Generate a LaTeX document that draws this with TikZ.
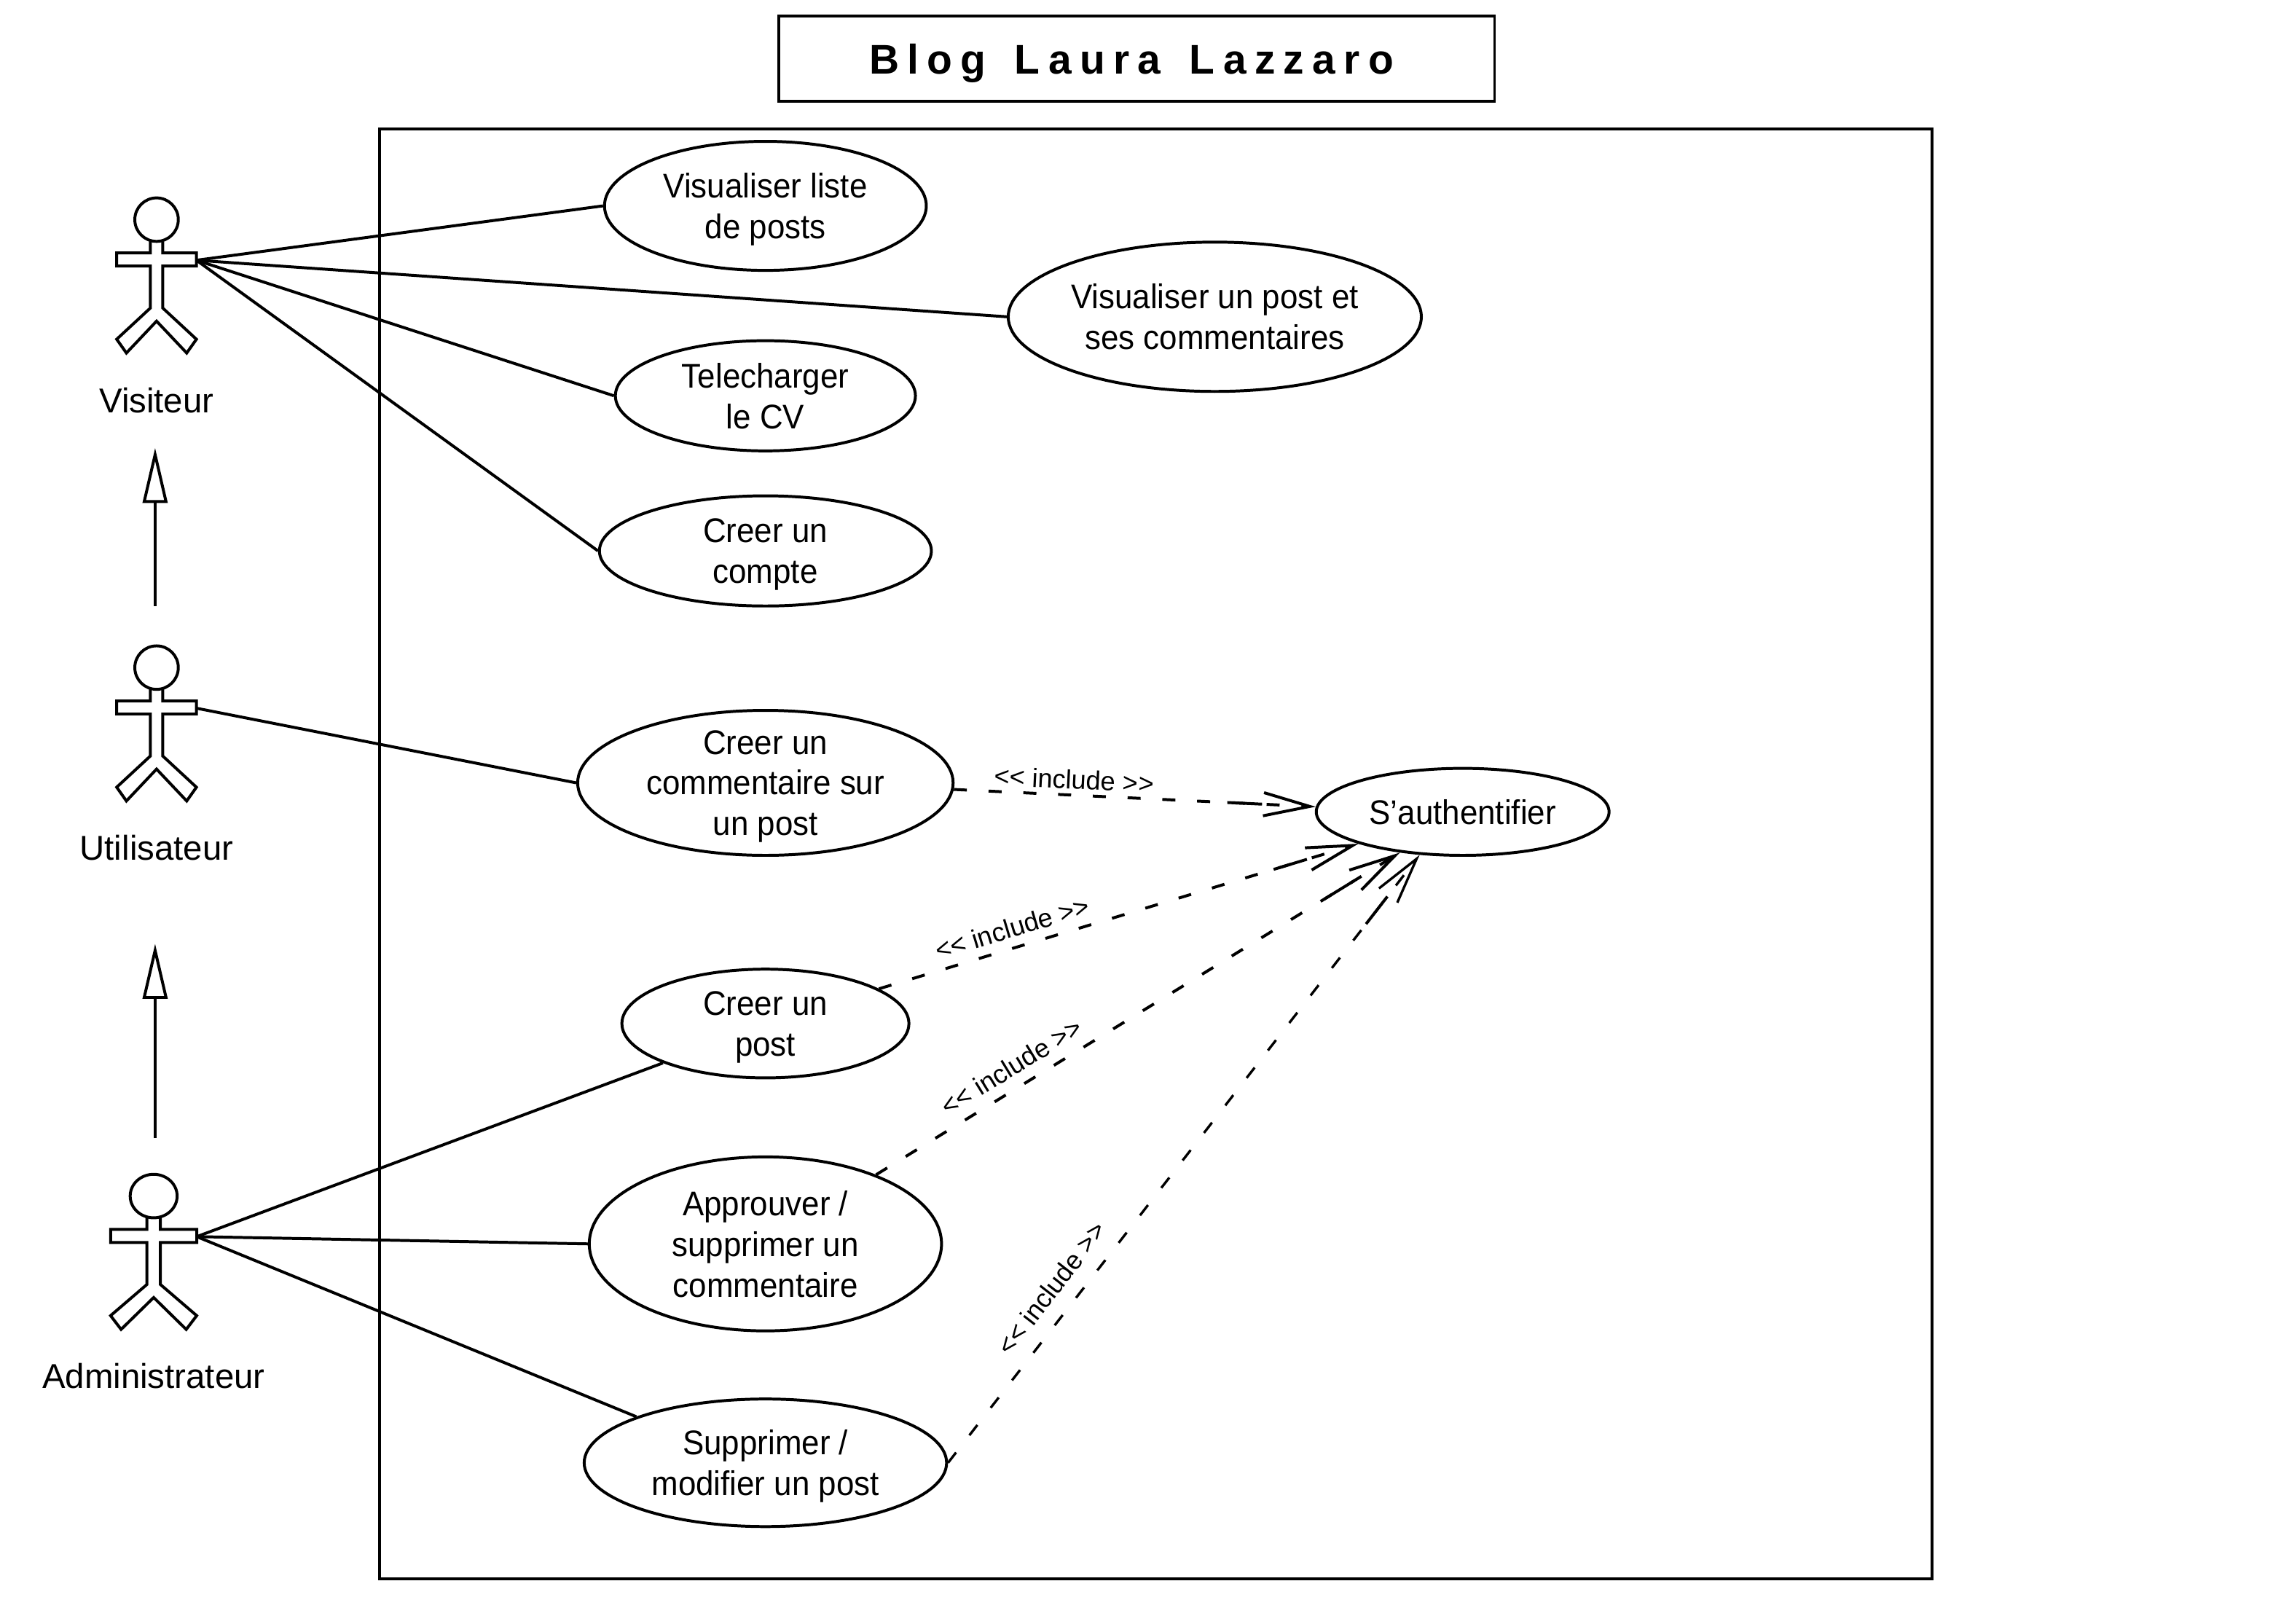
\documentclass[tikz,border=0pt]{standalone}
\usepackage{fontspec}
\setmainfont{Liberation Sans}
\newfontfamily\titlefont[LetterSpace=20,WordSpace=1.45]{Liberation Sans}
\newfontfamily\casefont[FakeStretch=0.935]{Liberation Sans}
\usetikzlibrary{arrows.meta,shapes.geometric}

\tikzset{
  actor/.pic={
    \draw (0,0) circle [radius=15];
    \draw (-4.3,15) -- (-4.3,23) -- (-27.5,23) -- (-27.5,32) -- (-4.3,32) -- (-4.3,61)
      -- (-27.5,82.5) -- (-20.8,92) -- (0,70) -- (20.8,92) -- (27.5,82.5) -- (4.3,61)
      -- (4.3,32) -- (27.5,32) -- (27.5,23) -- (4.3,23) -- (4.3,15);
    \coordinate (-hand) at (27.5,28);
  },
  usecase/.style={ellipse,draw,inner sep=-10pt,align=center,text depth=0pt,font=\casefont\fontsize{11.8}{14}\selectfont},
  assoc/.style={},
  include/.style={dash pattern=on 4.5pt off 7.5pt,shorten >=16pt,
    -{Rectangle[length=12pt,width=1pt,line width=0pt] Straight Barb[length=16pt,width=8pt,sep=-16pt]}},
  inherit/.style={-{Triangle[open,length=19pt,width=8.5pt]}},
  includelabel/.style={sloped,above,inner sep=1.5pt,font=\fontsize{9.1}{10}\selectfont}
}

\begin{document}
\begin{tikzpicture}[x=0.5pt,y=-0.5pt,line width=1pt,font=\fontsize{11.9}{14}\selectfont,line join=miter]
    \useasboundingbox (0,0) rectangle (1568,1120);

    \node[draw,minimum width=247pt,minimum height=29.5pt,inner sep=0pt,text depth=0pt,font=\titlefont\fontsize{14.3}{16}\selectfont\bfseries] (title) at (784,40.5) {Blog Laura Lazzaro\rule{3.5pt}{0pt}};
    \node[draw,minimum width=535.5pt,minimum height=500pt,inner sep=0pt] (system) at (797.5,589) {};

    \pic (a_vis) at (108,151.5) {actor};
    \pic (a_uti) at (108,460.5) {actor};
    \pic[xscale=1.08] (a_adm) at (106,825) {actor};
    \node (l_vis) at (108,276) {Visiteur};
    \node (l_uti) at (108,585) {Utilisateur};
    \node (l_adm) at (106,949) {Administrateur};

    \node[usecase,minimum width=111pt,minimum height=44.5pt] (u_liste) at (528,142) {Visualiser liste\\de posts};
    \node[usecase,minimum width=142.5pt,minimum height=51.5pt] (u_voir) at (838,218.5) {Visualiser un post et\\ses commentaires};
    \node[usecase,minimum width=103.5pt,minimum height=38pt] (u_cv) at (528,273) {Telecharger\\le CV};
    \node[usecase,minimum width=114.5pt,minimum height=38pt] (u_compte) at (528,380) {Creer un\\compte};
    \node[usecase,minimum width=129.5pt,minimum height=50pt] (u_comm) at (528,540) {Creer un\\commentaire sur\\un post};
    \node[usecase,minimum width=101pt,minimum height=30pt] (u_auth) at (1009,560) {S’authentifier};
    \node[usecase,minimum width=99pt,minimum height=37.5pt] (u_post) at (528,706) {Creer un\\post};
    \node[usecase,minimum width=121.5pt,minimum height=60pt] (u_appr) at (528,858) {Approuver /\\supprimer un\\commentaire};
    \node[usecase,minimum width=125pt,minimum height=44pt] (u_supp) at (528,1009) {Supprimer /\\modifier un post};

    \coordinate (g_1) at (107,418);
    \coordinate (g_2) at (107,309);
    \coordinate (g_3) at (107,785);
    \coordinate (g_4) at (107,651);

    \path[inherit]
    (g_1) edge (g_2)
    (g_3) edge (g_4);

    \path[assoc]
    (a_vis-hand) edge (u_liste.west)
    (a_vis-hand) edge (u_voir.west)
    (a_vis-hand) edge (u_cv.west)
    (a_vis-hand) edge (u_compte.west)
    (a_uti-hand) edge (u_comm.west)
    (a_adm-hand) edge (u_post.south west)
    (a_adm-hand) edge (u_appr.west)
    (a_adm-hand) edge (u_supp.north west);

    \path[include]
    (u_comm.-2) edge node[includelabel,pos=0.33] {<{}< include >{}>} (u_auth.178)
    (u_post.17) edge node[includelabel,pos=0.29,yshift=1.5pt] {<{}< include >{}>} (u_auth.197)
    (u_appr.32) edge node[includelabel,pos=0.28,yshift=2pt] {<{}< include >{}>} (u_auth.213)
    (u_supp.east) edge [line width=0.85pt] node[includelabel,pos=0.275,yshift=3.5pt,xshift=-3.5pt] {<{}< include >{}>} (u_auth.225);
  \end{tikzpicture}
\end{document}
